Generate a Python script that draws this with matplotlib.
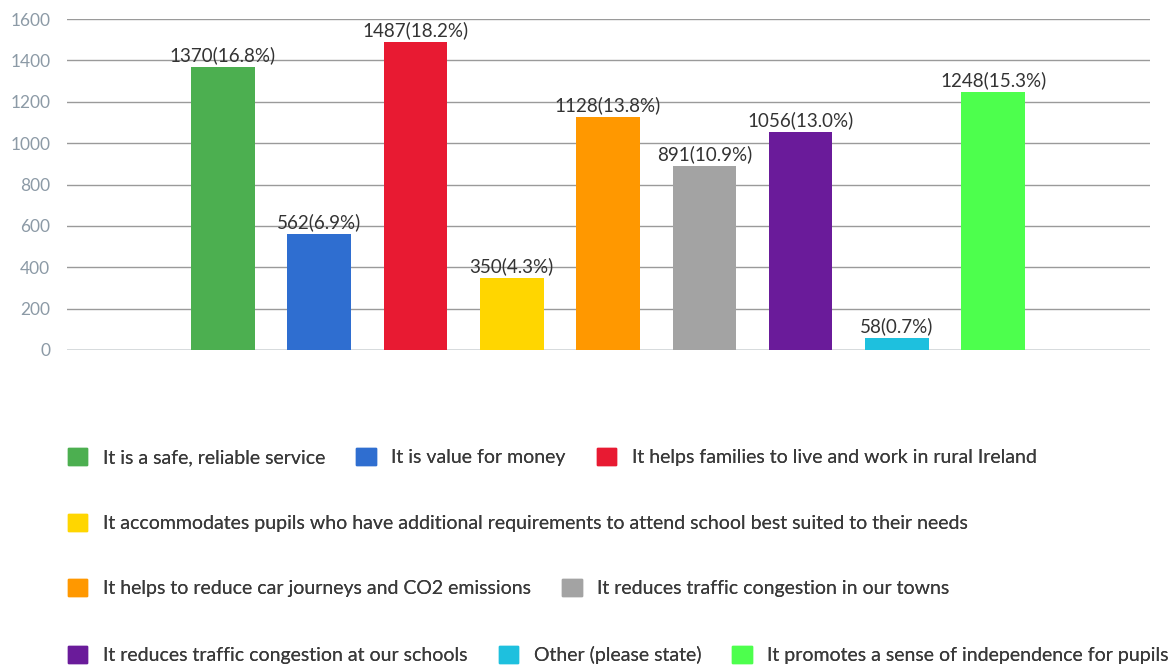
import matplotlib.pyplot as plt
import numpy as np

plt.rcParams['font.family'] = ['Lato', 'DejaVu Sans']

categories = [
    "It is a safe, reliable service",
    "It is value for money",
    "It helps families to live and work in rural Ireland",
    "It accommodates pupils who have additional requirements to attend school best suited to their needs",
    "It helps to reduce car journeys and CO2 emissions",
    "It reduces traffic congestion in our towns",
    "It reduces traffic congestion at our schools",
    "Other (please state)",
    "It promotes a sense of independence for pupils",
]
counts = [1370, 562, 1487, 350, 1128, 891, 1056, 58, 1248]
percents = [16.8, 6.9, 18.2, 4.3, 13.8, 10.9, 13.0, 0.7, 15.3]
colors = ['#4CAF50', '#2F6ED0', '#E81A32', '#FFD600', '#FF9800',
          '#A3A3A3', '#6A1B9A', '#1EC0DE', '#4DFF4D']

# legend rows, as indices into categories
legend_rows = [[0, 1, 2], [3], [4, 5], [6, 7, 8]]

fig = plt.figure(figsize=(11.76, 6.68), dpi=100)
ax = fig.add_axes([67 / 1176, 1 - 350 / 668, (1150 - 67) / 1176, 331 / 668])

x = np.arange(len(counts))
ax.bar(x, counts, width=0.66, color=colors, zorder=3)

for xi, c, p in zip(x, counts, percents):
    ax.annotate(f"{c}({p:.1f}%)", (xi, c), xytext=(0, 2), textcoords='offset points',
                ha='center', va='bottom', fontsize=13.5, color='#333333', zorder=4)

ax.set_xlim(-1.62, len(counts) - 1 + 1.63)
ax.set_ylim(0, 1600)
ax.set_yticks(np.arange(0, 1601, 200))
ax.yaxis.grid(True, color='#9a9a9a', linewidth=1.0, zorder=0)
ax.set_xticks([])
ax.tick_params(axis='y', length=0, pad=12, labelsize=12.5, labelcolor='#8c9aa6')
for s in ax.spines.values():
    s.set_visible(False)
ax.axhline(0, color='#8a9aa6', linewidth=1.0, zorder=2)

# legend, one row at a time
fs = 14
row_y = [457, 523, 588, 655]
for row, yp in zip(legend_rows, row_y):
    handles = [plt.Rectangle((0, 0), 1, 1, color=colors[i]) for i in row]
    labels = [categories[i] for i in row]
    leg = fig.legend(handles, labels, loc='center left', ncol=len(row),
                     bbox_to_anchor=(68 / 1176, 1 - yp / 668), frameon=False,
                     borderpad=0, borderaxespad=0,
                     fontsize=fs, handlelength=1.0, handleheight=0.95,
                     handletextpad=0.8, columnspacing=1.6, labelcolor='#3a3a3a')
    fig.add_artist(leg)

fig.savefig('out.png', dpi=100)
